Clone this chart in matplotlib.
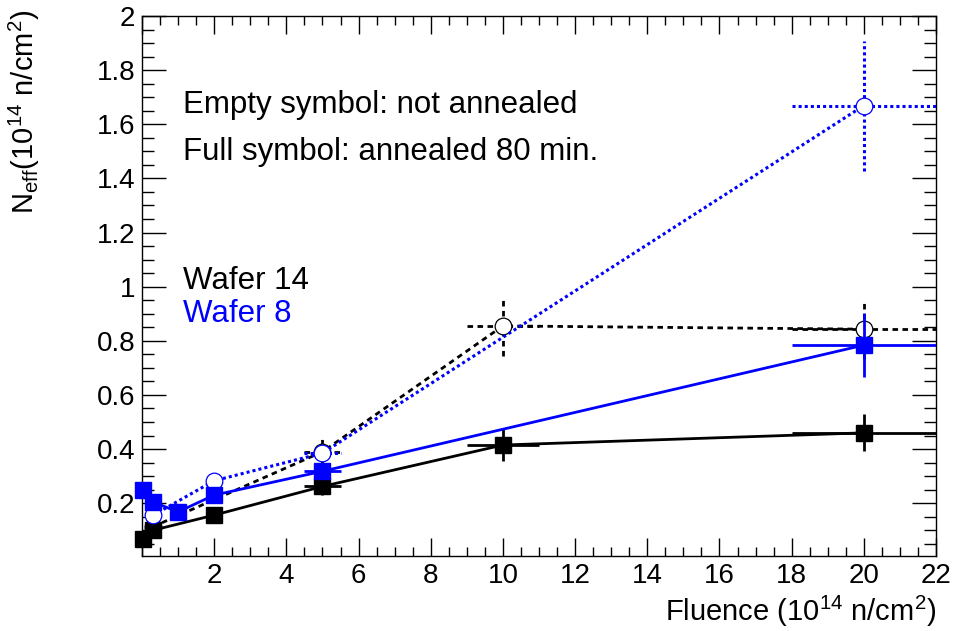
import matplotlib
matplotlib.use("Agg")
import matplotlib.pyplot as plt
from matplotlib.ticker import FixedLocator, MultipleLocator

plt.rcParams['font.family'] = ['Liberation Sans', 'DejaVu Sans']
plt.rcParams['mathtext.fontset'] = 'custom'
plt.rcParams['mathtext.rm'] = 'Liberation Sans'
plt.rcParams['mathtext.it'] = 'Liberation Sans:italic'
plt.rcParams['mathtext.bf'] = 'Liberation Sans:bold'

# ---------------- data ----------------
# Wafer 14, annealed 80 min (full squares)
w14_ann_x = [0.02, 0.3, 2, 5, 10, 20]
w14_ann_y = [0.067, 0.10, 0.156, 0.262, 0.415, 0.46]
w14_ann_xerr = [0.002, 0.03, 0.2, 0.5, 1.0, 2.0]
w14_ann_yerr = [0.01, 0.015, 0.02, 0.03, 0.058, 0.068]

# Wafer 14, not annealed (empty circles)
w14_not_x = [0.3, 5, 10, 20]
w14_not_y = [0.113, 0.39, 0.855, 0.843]
w14_not_xerr = [0.03, 0.5, 1.0, 2.0]
w14_not_yerr = [0.015, 0.05, 0.11, 0.11]

# Wafer 8, annealed 80 min (full squares)
w8_ann_x = [0.02, 0.3, 1, 2, 5, 20]
w8_ann_y = [0.248, 0.205, 0.168, 0.23, 0.318, 0.784]
w8_ann_xerr = [0.002, 0.03, 0.1, 0.2, 0.5, 2.0]
w8_ann_yerr = [0.015, 0.015, 0.015, 0.02, 0.03, 0.117]

# Wafer 8, not annealed (empty circles)
w8_not_x = [0.3, 2, 5, 20]
w8_not_y = [0.155, 0.283, 0.385, 1.669]
w8_not_xerr = [0.03, 0.2, 0.5, 2.0]
w8_not_yerr = [0.015, 0.02, 0.03, 0.24]

x_ticks = [0, 2, 4, 6, 8, 10, 12, 14, 16, 18, 20, 22]
x_tick_labels = ['', '2', '4', '6', '8', '10', '12', '14', '16', '18', '20', '22']
y_ticks = [0.2, 0.4, 0.6, 0.8, 1.0, 1.2, 1.4, 1.6, 1.8, 2.0]
y_tick_labels = ['0.2', '0.4', '0.6', '0.8', '1', '1.2', '1.4', '1.6', '1.8', '2']

BLUE = '#0000ff'
BLACK = '#000000'

W, H = 955, 631
fig = plt.figure(figsize=(W / 100, H / 100), dpi=100)
L, R, T, B = 142, 936, 16, 556
ax = fig.add_axes([L / W, 1 - B / H, (R - L) / W, (B - T) / H])
ax.set_xlim(0, 22)
ax.set_ylim(0.005, 2.0)

DASH_BLACK = (0, (2.0, 1.6))
DOT_BLUE = (0, (1.0, 1.0))


def draw(x, y, xe, ye, color, marker, ls, lw, filled, z):
    ax.plot(x, y, color=color, lw=lw, linestyle=ls, zorder=z,
            solid_capstyle='butt', dash_capstyle='butt')
    eb = ax.errorbar(x, y, xerr=xe, yerr=ye, fmt='none', ecolor=color,
                     elinewidth=lw, capsize=0, zorder=z)
    for lc in eb.lines[2]:
        lc.set_linestyle(ls)
    if filled:
        ax.plot(x, y, ls='none', marker=marker, ms=11.5, mfc=color, mec=color,
                mew=1.0, zorder=z + 0.5, clip_on=False)
    else:
        ax.plot(x, y, ls='none', marker=marker, ms=12, mfc='white', mec=color,
                mew=0.9, zorder=z + 0.5, clip_on=False)


draw(w14_not_x, w14_not_y, w14_not_xerr, w14_not_yerr, BLACK, 'o', DASH_BLACK, 2.0, False, 2)
draw(w14_ann_x, w14_ann_y, w14_ann_xerr, w14_ann_yerr, BLACK, 's', '-', 2.0, True, 3)
draw(w8_not_x, w8_not_y, w8_not_xerr, w8_not_yerr, BLUE, 'o', DOT_BLUE, 2.2, False, 4)
draw(w8_ann_x, w8_ann_y, w8_ann_xerr, w8_ann_yerr, BLUE, 's', '-', 2.0, True, 5)

# ticks
ax.xaxis.set_major_locator(FixedLocator(x_ticks))
ax.set_xticklabels(x_tick_labels)
ax.xaxis.set_minor_locator(MultipleLocator(0.5))
ax.yaxis.set_major_locator(FixedLocator(y_ticks))
ax.set_yticklabels(y_tick_labels)
ax.yaxis.set_minor_locator(MultipleLocator(0.05))
ax.tick_params(axis='both', which='both', direction='in', top=True, right=True,
               width=1.0, color='black')
ax.tick_params(axis='x', which='major', length=13, pad=5, labelsize=20)
ax.tick_params(axis='x', which='minor', length=6.5)
ax.tick_params(axis='y', which='major', length=17, pad=5, labelsize=20)
ax.tick_params(axis='y', which='minor', length=8.5)
for s in ax.spines.values():
    s.set_linewidth(1.0)

# axis titles
fig.text(936 / W, 1 - 621 / H, r'Fluence (10$^{14}$ n/cm$^{2}$)', ha='right',
         va='baseline', fontsize=21)
fig.text(34 / W, 1 - 10 / H, r'N$_{\rm eff}$(10$^{14}$ n/cm$^{2}$)', ha='right',
         va='baseline', rotation=90, rotation_mode='anchor', fontsize=21)

# annotations
fig.text(183 / W, 1 - 113 / H, 'Empty symbol: not annealed', ha='left',
         va='baseline', fontsize=22.5)
fig.text(183 / W, 1 - 160 / H, 'Full symbol: annealed 80 min.', ha='left',
         va='baseline', fontsize=22.5)
fig.text(183 / W, 1 - 289 / H, 'Wafer 14', ha='left', va='baseline',
         fontsize=22.5, color=BLACK)
fig.text(183 / W, 1 - 322 / H, 'Wafer 8', ha='left', va='baseline',
         fontsize=22.5, color=BLUE)

fig.savefig('out.png', dpi=100)
